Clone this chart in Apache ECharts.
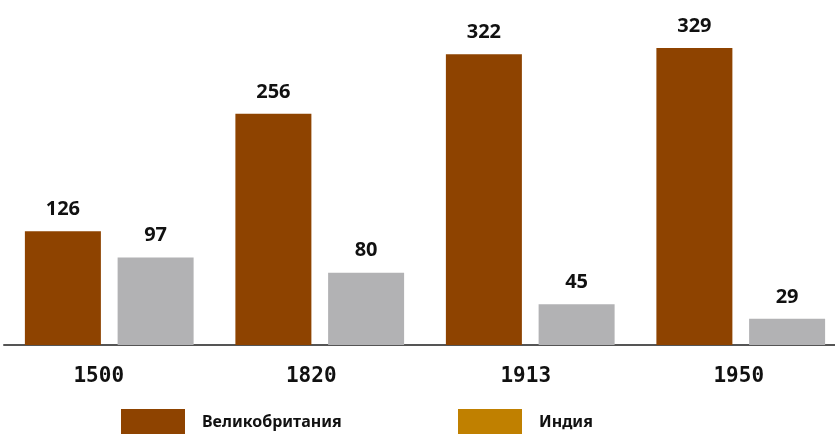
<!DOCTYPE html>
<html>
<head>
<meta charset="utf-8">
<script src="https://cdn.jsdelivr.net/npm/echarts@6/dist/echarts.min.js"></script>
<style>html,body{margin:0;padding:0;background:#fff}#c{width:835px;height:434px}</style>
</head>
<body>
<div id="c"></div>
<script>
var categories = ['1500', '1820', '1913', '1950'];
var seriesNames = ['Великобритания', 'Индия'];
var ukValues = [126, 256, 322, 329];
var indiaValues = [97, 80, 45, 29];

var BROWN = '#8E4300', GRAY = '#B2B2B4', GOLD = '#C08000';
var chart = echarts.init(document.getElementById('c'));
var labelStyle = {show: true, position: 'top', distance: 12, color: '#111', fontFamily: 'Noto Sans', fontWeight: 'bold', fontSize: 20};
var legendText = {fontFamily: 'Noto Sans', fontWeight: 'bold', fontSize: 16, color: '#111', padding: [0, 0, 0, 12]};
var tickFont = {fontFamily: 'DejaVu Sans Mono', fontWeight: 'bold', fontSize: 21, color: '#111'};
function shifted(pr) { return Object.assign({padding: [0, pr, 0, 0]}, tickFont); }
chart.setOption({
  animation: false,
  grid: {left: 4, width: 842, top: 29, bottom: 89, containLabel: false, outerBoundsMode: 'none'},
  legend: [
    {data: [seriesNames[0]], left: 121, top: 409, padding: 0, itemWidth: 64, itemHeight: 26, icon: 'rect', textStyle: legendText},
    {data: [seriesNames[1]], left: 458, top: 409, padding: 0, itemWidth: 64, itemHeight: 26, icon: 'rect', textStyle: legendText}
  ],
  xAxis: {
    type: 'category', data: categories,
    axisTick: {show: false},
    axisLine: {lineStyle: {color: '#555', width: 2}},
    axisLabel: {
      margin: 21,
      formatter: function (v, i) { return '{s' + i + '|' + v + '}'; },
      rich: {s0: shifted(21), s1: shifted(17), s2: shifted(9), s3: shifted(4)}
    }
  },
  yAxis: {type: 'value', min: 0, max: 350, show: false, splitLine: {show: false}},
  series: [
    {name: seriesNames[0], type: 'bar', data: ukValues, barWidth: 76, barGap: '22%',
     itemStyle: {color: BROWN}, label: labelStyle},
    {name: seriesNames[1], type: 'bar', barWidth: 76,
     data: indiaValues.map(function (v) { return {value: v, itemStyle: {color: GRAY}}; }),
     itemStyle: {color: GOLD}, label: labelStyle}
  ]
});
</script>
</body>
</html>
